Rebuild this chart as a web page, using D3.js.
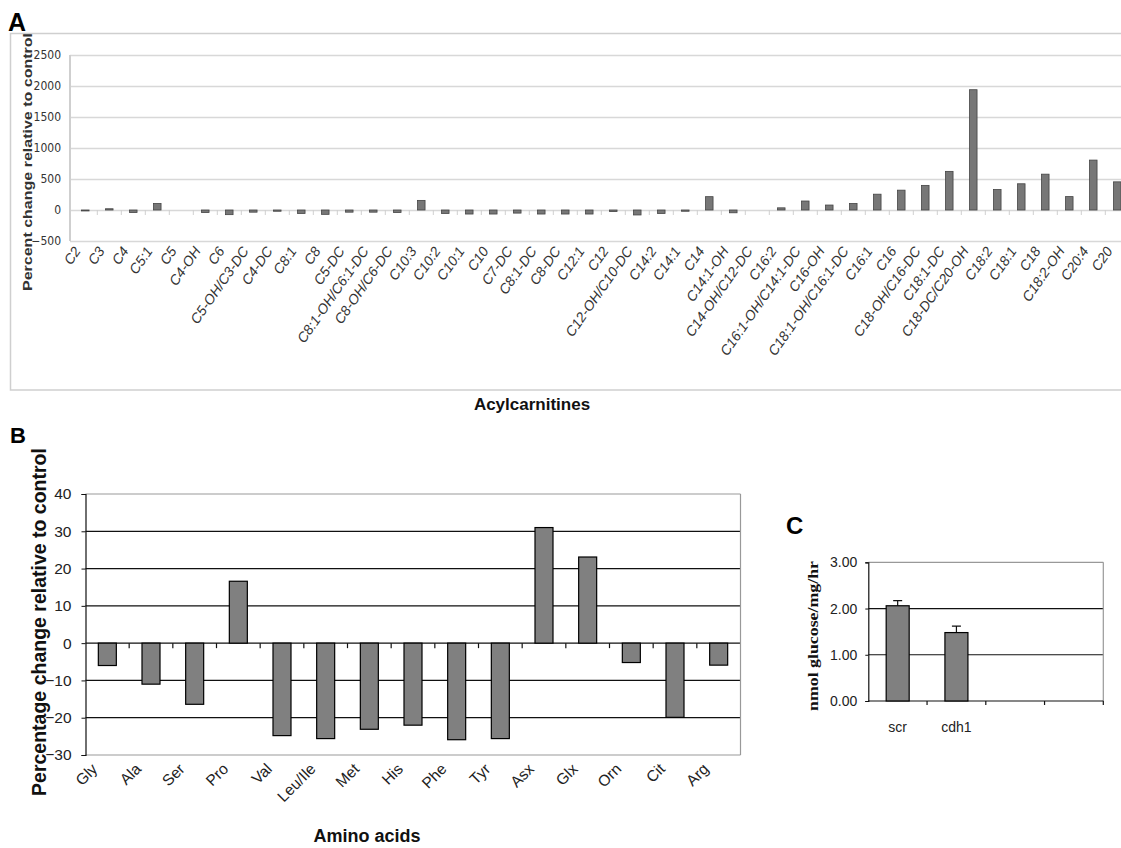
<!DOCTYPE html>
<html>
<head>
<meta charset="utf-8">
<script src="https://cdn.jsdelivr.net/npm/d3@7"></script>
<style>
  body { margin: 0; background: #fff; }
</style>
</head>
<body>
<div id="fig"></div>
<script>
// Panel A: acylcarnitines, percent change relative to control
var acylNames = ["C2", "C3", "C4", "C5:1", "C5", "C4-OH", "C6", "C5-OH/C3-DC", "C4-DC", "C8:1", "C8",
  "C5-DC", "C8:1-OH/C6:1-DC", "C8-OH/C6-DC", "C10:3", "C10:2", "C10:1", "C10", "C7-DC", "C8:1-DC",
  "C8-DC", "C12:1", "C12", "C12-OH/C10-DC", "C14:2", "C14:1", "C14", "C14:1-OH", "C14-OH/C12-DC",
  "C16:2", "C16:1-OH/C14:1-DC", "C16-OH", "C18:1-OH/C16:1-DC", "C16:1", "C16", "C18-OH/C16-DC",
  "C18:1-DC", "C18-DC/C20-OH", "C18:2", "C18:1", "C18", "C18:2-OH", "C20:4", "C20"];
var acylValues = [-15, 20, -40, 105, 0, -40, -75, -35, -20, -55, -70,
  -35, -35, -40, 155, -55, -65, -65, -50, -65,
  -65, -65, -25, -80, -55, -20, 215, -45, 0,
  35, 145, 80, 105, 255, 320, 397,
  623, 1940, 330, 423, 578, 216, 805, 454];
var acylTicks = [2500, 2000, 1500, 1000, 500, 0, -500];

// Panel B: amino acids
var aminoNames = ["Gly", "Ala", "Ser", "Pro", "Val", "Leu/Ile", "Met", "His", "Phe", "Tyr", "Asx", "Glx", "Orn", "Cit", "Arg"];
var aminoValues = [-6, -11, -16.4, 16.6, -24.8, -25.6, -23.1, -22, -25.9, -25.6, 31, 23.1, -5.2, -19.9, -5.9];
var aminoTicks = [40, 30, 20, 10, 0, -10, -20, -30];

// Panel C: glucose production
var glucoseGroups = ["scr", "cdh1", "g3", "g4"];
var glucoseLabels = ["scr", "cdh1", "", ""];
var glucoseValues = [2.06, 1.48, null, null];
var glucoseErrors = [0.11, 0.14, null, null];
var glucoseTicks = [0, 1, 2, 3];

var W = 1121, H = 848;
var sans = "Liberation Sans, Arial, sans-serif";
var narrow = "Liberation Sans Narrow, Arial Narrow, DejaVu Sans Condensed, sans-serif";

var svg = d3.select("#fig").append("svg")
  .attr("width", W).attr("height", H)
  .style("font-family", sans);
svg.append("rect").attr("width", W).attr("height", H).attr("fill", "#fff");

// ---------- Panel A ----------
var aLeft = 73.3, aTop = 55, aBottom = 241;
var ax = d3.scaleBand().domain(acylNames).range([aLeft, aLeft + 24 * acylNames.length]);
var ay = d3.scaleLinear().domain([-500, 2500]).range([aBottom, aTop]);
var gA = svg.append("g");

// outer chart frame
gA.append("rect")
  .attr("x", 10.5).attr("y", 33.5).attr("width", 1130).attr("height", 356.5)
  .attr("fill", "none").attr("stroke", "#cfcfcf").attr("stroke-width", 1.5);

gA.append("g")
  .attr("transform", "translate(70,0)")
  .call(d3.axisLeft(ay).tickValues(acylTicks).tickSize(-(W - 70)).tickPadding(9).tickFormat(d3.format("d")))
  .call(function(g) { g.select(".domain").remove(); })
  .call(function(g) { g.selectAll("line").attr("stroke", "#d8d8d8").attr("stroke-width", 1.6); })
  .call(function(g) {
    g.selectAll("text").attr("font-family", narrow).attr("font-size", 12).attr("fill", "#333");
  });

gA.append("line")
  .attr("x1", 70).attr("x2", 70).attr("y1", aTop).attr("y2", aBottom)
  .attr("stroke", "#cfcfcf").attr("stroke-width", 2);

// small category ticks under the zero line
gA.selectAll(".atick")
  .data(acylNames.slice(1))
  .enter().append("line")
  .attr("x1", function(d) { return ax(d); })
  .attr("x2", function(d) { return ax(d); })
  .attr("y1", ay(0)).attr("y2", ay(0) + 5)
  .attr("stroke", "#d0d0d0");

var aBarW = 7.5;
gA.selectAll(".abar")
  .data(acylValues)
  .enter().append("rect")
  .attr("x", function(d, i) { return ax(acylNames[i]) + ax.bandwidth() / 2 - aBarW / 2; })
  .attr("y", function(d) { return ay(Math.max(0, d)); })
  .attr("width", aBarW)
  .attr("height", function(d) { return Math.abs(ay(d) - ay(0)); })
  .attr("fill", "#777")
  .attr("stroke", "#444")
  .attr("stroke-width", 0.8);

gA.selectAll(".alabel")
  .data(acylNames)
  .enter().append("text")
  .attr("transform", function(d) {
    return "translate(" + (ax(d) + ax.bandwidth() / 2 - 4) + "," + (aBottom + 10) + ") rotate(-55)";
  })
  .attr("text-anchor", "end")
  .attr("font-size", 14)
  .attr("font-style", "italic")
  .attr("fill", "#333")
  .text(function(d) { return d; });

gA.append("text")
  .attr("transform", "translate(32,162) rotate(-90)")
  .attr("text-anchor", "middle")
  .attr("font-size", 13)
  .attr("font-weight", "bold")
  .attr("fill", "#333")
  .attr("textLength", 258)
  .attr("lengthAdjust", "spacingAndGlyphs")
  .text("Percent change relative to control");

gA.append("text")
  .attr("x", 532).attr("y", 410)
  .attr("text-anchor", "middle")
  .attr("font-size", 17)
  .attr("font-weight", "bold")
  .attr("fill", "#111")
  .text("Acylcarnitines");

gA.append("text")
  .attr("x", 8).attr("y", 31)
  .attr("font-size", 25).attr("font-weight", "bold")
  .text("A");

// ---------- Panel B ----------
var bLeft = 85.5, bRight = 740.5, bTop = 494, bBottom = 755;
var bx = d3.scaleBand().domain(aminoNames).range([bLeft, bRight]);
var by = d3.scaleLinear().domain([-30, 40]).range([bBottom, bTop]);
var gB = svg.append("g");

gB.selectAll(".bgrid")
  .data(aminoTicks)
  .enter().append("line")
  .attr("x1", bLeft).attr("x2", bRight)
  .attr("y1", function(d) { return by(d); })
  .attr("y2", function(d) { return by(d); })
  .attr("stroke", function(d) { return (d === 40 || d === -30) ? "#999" : "#111"; })
  .attr("stroke-width", 1.2);

gB.append("line")
  .attr("x1", bRight).attr("x2", bRight).attr("y1", bTop).attr("y2", bBottom)
  .attr("stroke", "#999").attr("stroke-width", 1.2);

gB.append("g")
  .attr("transform", "translate(" + bLeft + ",0)")
  .call(d3.axisLeft(by).tickValues(aminoTicks).tickSize(4).tickPadding(10))
  .call(function(g) { g.select(".domain").attr("stroke", "#111").attr("stroke-width", 1.2); })
  .call(function(g) { g.selectAll("line").attr("stroke", "#111"); })
  .call(function(g) {
    g.selectAll("text").attr("font-family", sans).attr("font-size", 15.5).attr("fill", "#222");
  });

gB.selectAll(".btick")
  .data(aminoNames.slice(1))
  .enter().append("line")
  .attr("x1", function(d) { return bx(d); })
  .attr("x2", function(d) { return bx(d); })
  .attr("y1", by(0)).attr("y2", by(0) + 5)
  .attr("stroke", "#111").attr("stroke-width", 1.2);

var bBarW = 18;
gB.selectAll(".bbar")
  .data(aminoValues)
  .enter().append("rect")
  .attr("x", function(d, i) { return bx(aminoNames[i]) + bx.bandwidth() / 2 - bBarW / 2; })
  .attr("y", function(d) { return by(Math.max(0, d)); })
  .attr("width", bBarW)
  .attr("height", function(d) { return Math.abs(by(d) - by(0)); })
  .attr("fill", "#808080")
  .attr("stroke", "#000")
  .attr("stroke-width", 1.2);

gB.selectAll(".blabel")
  .data(aminoNames)
  .enter().append("text")
  .attr("transform", function(d) {
    return "translate(" + (bx(d) + bx.bandwidth() / 2 - 9) + "," + (bBottom + 15) + ") rotate(-45)";
  })
  .attr("text-anchor", "end")
  .attr("font-size", 15.5)
  .attr("fill", "#222")
  .text(function(d) { return d; });

gB.append("text")
  .attr("transform", "translate(46,622) rotate(-90)")
  .attr("text-anchor", "middle")
  .attr("font-size", 19.5)
  .attr("font-weight", "bold")
  .attr("fill", "#111")
  .text("Percentage change relative to control");

gB.append("text")
  .attr("x", 367).attr("y", 842)
  .attr("text-anchor", "middle")
  .attr("font-size", 18)
  .attr("font-weight", "bold")
  .attr("fill", "#111")
  .text("Amino acids");

gB.append("text")
  .attr("x", 10).attr("y", 443)
  .attr("font-size", 22).attr("font-weight", "bold")
  .text("B");

// ---------- Panel C ----------
var cLeft = 868.3, cRight = 1103.3, cTop = 562.3, cBottom = 701;
var cx = d3.scaleBand().domain(glucoseGroups).range([cLeft, cRight]);
var cy = d3.scaleLinear().domain([0, 3]).range([cBottom, cTop]);
var gC = svg.append("g");

gC.selectAll(".cgrid")
  .data(glucoseTicks.slice(1))
  .enter().append("line")
  .attr("x1", cLeft).attr("x2", cRight)
  .attr("y1", function(d) { return cy(d); })
  .attr("y2", function(d) { return cy(d); })
  .attr("stroke", function(d) { return d === 3 ? "#999" : "#111"; })
  .attr("stroke-width", 1.2);

gC.append("line")
  .attr("x1", cRight).attr("x2", cRight).attr("y1", cTop).attr("y2", cBottom)
  .attr("stroke", "#999").attr("stroke-width", 1.2);

gC.append("g")
  .attr("transform", "translate(" + cLeft + ",0)")
  .call(d3.axisLeft(cy).tickValues(glucoseTicks).tickSize(3).tickPadding(8).tickFormat(d3.format(".2f")))
  .call(function(g) { g.select(".domain").attr("stroke", "#111").attr("stroke-width", 1.2); })
  .call(function(g) { g.selectAll("line").attr("stroke", "#111"); })
  .call(function(g) {
    g.selectAll("text").attr("font-family", sans).attr("font-size", 14).attr("fill", "#222");
  });

gC.append("line")
  .attr("x1", cLeft).attr("x2", cRight).attr("y1", cBottom).attr("y2", cBottom)
  .attr("stroke", "#111").attr("stroke-width", 1.2);

gC.selectAll(".ctick")
  .data(glucoseGroups.slice(1).concat(["end"]))
  .enter().append("line")
  .attr("x1", function(d) { return d === "end" ? cRight : cx(d); })
  .attr("x2", function(d) { return d === "end" ? cRight : cx(d); })
  .attr("y1", cBottom).attr("y2", cBottom + 4)
  .attr("stroke", "#111").attr("stroke-width", 1.2);

var cBarW = 23;
var cData = glucoseGroups.map(function(g, i) {
  return { key: g, value: glucoseValues[i], err: glucoseErrors[i] };
}).filter(function(d) { return d.value !== null; });

gC.selectAll(".cerr")
  .data(cData)
  .enter().append("path")
  .attr("d", function(d) {
    var mx = cx(d.key) + cx.bandwidth() / 2;
    var yt = cy(d.value + d.err);
    return "M" + mx + "," + cy(d.value) + "V" + yt + "M" + (mx - 4.5) + "," + yt + "H" + (mx + 4.5);
  })
  .attr("stroke", "#111").attr("stroke-width", 1.2).attr("fill", "none");

gC.selectAll(".cbar")
  .data(cData)
  .enter().append("rect")
  .attr("x", function(d) { return cx(d.key) + cx.bandwidth() / 2 - cBarW / 2; })
  .attr("y", function(d) { return cy(d.value); })
  .attr("width", cBarW)
  .attr("height", function(d) { return cy(0) - cy(d.value); })
  .attr("fill", "#808080")
  .attr("stroke", "#000")
  .attr("stroke-width", 1.2);

gC.selectAll(".clabel")
  .data(glucoseGroups)
  .enter().append("text")
  .attr("x", function(d) { return cx(d) + cx.bandwidth() / 2; })
  .attr("y", 732)
  .attr("text-anchor", "middle")
  .attr("font-size", 14)
  .attr("fill", "#222")
  .text(function(d, i) { return glucoseLabels[i]; });

gC.append("text")
  .attr("transform", "translate(818,636) rotate(-90)")
  .attr("text-anchor", "middle")
  .attr("font-family", "Liberation Serif, Times New Roman, serif")
  .attr("font-size", 14)
  .attr("font-weight", "bold")
  .attr("fill", "#111")
  .attr("textLength", 150)
  .attr("lengthAdjust", "spacingAndGlyphs")
  .text("nmol glucose/mg/hr");

gC.append("text")
  .attr("x", 786).attr("y", 534)
  .attr("font-size", 24).attr("font-weight", "bold")
  .text("C");
</script>
</body>
</html>
